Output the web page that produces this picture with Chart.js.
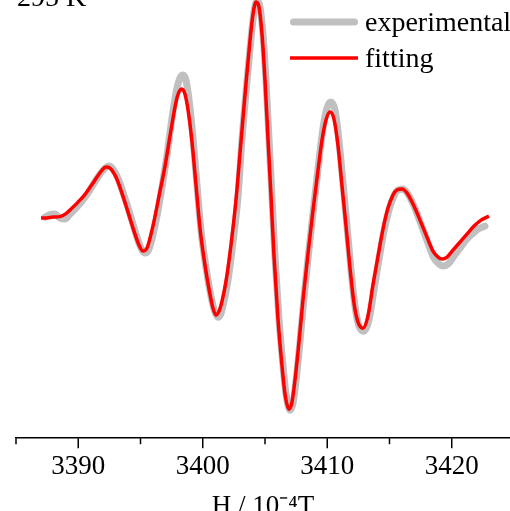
<!DOCTYPE html>
<html>
<head>
<meta charset="utf-8">
<script src="https://cdn.jsdelivr.net/npm/chart.js@4.4.1/dist/chart.umd.min.js"></script>
<style>
  html, body { margin: 0; padding: 0; width: 510px; height: 511px; overflow: hidden; background: #fff; }
  #wrap { position: relative; width: 510px; height: 527px; }
</style>
</head>
<body>
<div id="wrap"><canvas id="epr"></canvas></div>
<script>
// EPR spectrum at 295 K: measured trace and simulated fit
const expField = [3387.33, 3387.73, 3388.13, 3388.53, 3388.94, 3389.34, 3389.82, 3390.30, 3390.78, 3391.27,
  3391.75, 3392.15, 3392.47, 3392.79, 3393.19, 3393.67, 3394.16, 3394.64, 3395.04, 3395.36,
  3395.68, 3396.16, 3396.65, 3397.13, 3397.53, 3397.93, 3398.17, 3398.41, 3398.65, 3398.90,
  3399.22, 3399.54, 3399.86, 3400.26, 3400.66, 3400.98, 3401.22, 3401.47, 3401.71, 3402.03,
  3402.43, 3402.83, 3403.15, 3403.55, 3403.88, 3404.12, 3404.36, 3404.60, 3404.84, 3405.08,
  3405.32, 3405.56, 3405.80, 3406.12, 3406.45, 3406.69, 3407.01, 3407.25, 3407.49, 3407.81,
  3408.13, 3408.53, 3408.94, 3409.34, 3409.66, 3409.98, 3410.30, 3410.62, 3410.94, 3411.26,
  3411.59, 3411.91, 3412.23, 3412.55, 3412.95, 3413.35, 3413.75, 3414.16, 3414.56, 3414.96,
  3415.36, 3415.68, 3416.08, 3416.49, 3416.97, 3417.53, 3418.09, 3418.57, 3418.98, 3419.30,
  3419.70, 3420.18, 3420.66, 3421.14, 3421.63, 3422.11, 3422.67];
const expSignal = [1, 3.5, 4, 0, -1, 4, 10, 17, 25, 35,
  44, 50, 52, 49, 40, 23, 4, -16, -30, -35,
  -31, -8, 25, 63, 100, 130, 140, 143, 138, 118,
  80, 33, -12, -49, -78, -94, -99, -95, -83, -62,
  -24, 21, 78, 136, 180, 206, 217, 211, 184, 138,
  80, 22, -38, -100, -148, -176, -192, -185, -163, -124,
  -80, -32, 14, 58, 90, 110, 116, 108, 78, 36,
  -8, -52, -88, -108, -113, -102, -72, -41, -13, 8,
  22, 28, 29, 24, 12, -6, -25, -40, -46, -48,
  -46, -38, -30, -22, -16, -11, -8];

const fitField = [3387.01, 3387.49, 3387.97, 3388.53, 3389.02, 3389.50, 3389.98, 3390.50, 3391.02, 3391.51,
  3391.91, 3392.23, 3392.55, 3393.03, 3393.51, 3394.00, 3394.48, 3394.88, 3395.20, 3395.52,
  3396.00, 3396.49, 3396.97, 3397.45, 3397.85, 3398.09, 3398.33, 3398.57, 3398.82, 3399.14,
  3399.46, 3399.78, 3400.18, 3400.58, 3400.82, 3401.06, 3401.31, 3401.55, 3401.87, 3402.27,
  3402.67, 3403.07, 3403.47, 3403.80, 3404.04, 3404.28, 3404.52, 3404.76, 3405.00, 3405.24,
  3405.48, 3405.72, 3406.04, 3406.37, 3406.61, 3406.93, 3407.17, 3407.41, 3407.73, 3408.05,
  3408.45, 3408.86, 3409.26, 3409.58, 3409.90, 3410.22, 3410.54, 3410.86, 3411.18, 3411.51,
  3411.83, 3412.15, 3412.47, 3412.87, 3413.27, 3413.67, 3414.08, 3414.48, 3414.88, 3415.28,
  3415.60, 3416.00, 3416.41, 3416.89, 3417.45, 3418.01, 3418.49, 3418.90, 3419.22, 3419.62,
  3420.10, 3420.66, 3421.22, 3421.79, 3422.35, 3422.99];
const fitSignal = [0, 0.2, 1, 1.5, 4.5, 10, 16, 23, 32, 41,
  48, 51, 50, 41, 25, 6, -13, -27, -33, -30,
  -8, 22, 52, 88, 116, 126, 129, 124, 108, 76,
  33, -10, -47, -76, -90, -97, -93, -83, -63, -27,
  18, 76, 134, 178, 204, 216, 211, 184, 138, 80,
  23, -37, -100, -148, -176, -191, -184, -162, -124, -82,
  -36, 8, 48, 78, 98, 106, 99, 73, 33, -8,
  -50, -85, -104, -110, -98, -67, -38, -11, 10, 23,
  28, 29, 25, 14, -2, -19, -33, -39, -41, -39,
  -32, -24, -16, -8, -2, 2];

const seriesNames = ['experimental', 'fitting'];
const fieldTicks = [3390, 3400, 3410, 3420];
const tempLabel = '295 K';
const axisTitle = 'H / 10\u207B\u2074T';

const serif = '"Liberation Serif", "Times New Roman", serif';

function points(xs, ys) {
  return xs.map((x, i) => ({ x: x, y: ys[i] }));
}

// long ticks every 10, short ones in between
const axisTicks = {
  id: 'axisTicks',
  afterDraw(chart) {
    const sx = chart.scales.x;
    const y0 = chart.chartArea.bottom;
    const ctx = chart.ctx;
    ctx.save();
    ctx.strokeStyle = '#000';
    ctx.lineWidth = 1.5;
    sx.ticks.forEach(t => {
      const px = sx.getPixelForValue(t.value);
      const len = fieldTicks.includes(t.value) ? 10 : 6;
      ctx.beginPath();
      ctx.moveTo(px, y0);
      ctx.lineTo(px, y0 + len);
      ctx.stroke();
    });
    ctx.restore();
  }
};

// line-sample legend in the upper right, plus the temperature note
const lineLegend = {
  id: 'lineLegend',
  afterDraw(chart, args, opts) {
    const ctx = chart.ctx;
    ctx.save();
    ctx.font = opts.size + 'px ' + serif;
    ctx.textBaseline = 'alphabetic';
    chart.data.datasets.forEach((ds, i) => {
      const y = opts.top + i * opts.rowGap;
      const inset = ds.borderCapStyle === 'round' ? ds.borderWidth / 2 : 0;
      ctx.strokeStyle = ds.borderColor;
      ctx.lineWidth = ds.borderWidth;
      ctx.lineCap = ds.borderCapStyle || 'butt';
      ctx.beginPath();
      ctx.moveTo(opts.left + inset, y);
      ctx.lineTo(opts.left + opts.sample - inset, y);
      ctx.stroke();
      ctx.fillStyle = '#000';
      ctx.fillText(ds.label, opts.left + opts.sample + opts.gap, y + opts.baseline);
    });
    ctx.fillText(tempLabel, chart.chartArea.left + 1, opts.noteY);
    ctx.restore();
  }
};

new Chart(document.getElementById('epr'), {
  type: 'line',
  data: {
    datasets: [{
      label: seriesNames[0],
      data: points(expField, expSignal),
      borderColor: '#c0c0c0',
      borderWidth: 7,
      borderCapStyle: 'round',
      borderJoinStyle: 'round',
      pointRadius: 0,
      cubicInterpolationMode: 'monotone',
      order: 2
    }, {
      label: seriesNames[1],
      data: points(fitField, fitSignal),
      borderColor: '#ff0000',
      borderWidth: 3.5,
      pointRadius: 0,
      cubicInterpolationMode: 'monotone',
      order: 1
    }]
  },
  options: {
    responsive: true,
    maintainAspectRatio: false,
    animation: false,
    layout: { padding: { left: 16, right: 0, top: 0, bottom: 0 } },
    plugins: {
      legend: { display: false },
      tooltip: { enabled: false },
      lineLegend: { left: 290, top: 22, rowGap: 36, sample: 68, gap: 7, baseline: 9, size: 28, noteY: 6 }
    },
    scales: {
      x: {
        type: 'linear',
        min: 3385,
        max: 3424.68,
        border: { display: true, color: '#000', width: 1.5 },
        grid: { display: false, drawTicks: false },
        ticks: {
          stepSize: 5,
          includeBounds: false,
          autoSkip: false,
          maxRotation: 0,
          padding: 13,
          color: '#000',
          font: { family: serif, size: 27 },
          callback: v => fieldTicks.includes(v) ? String(v) : ''
        },
        title: {
          display: true,
          text: axisTitle,
          color: '#000',
          font: { family: serif, size: 27 },
          padding: { top: -6, bottom: 4 }
        }
      },
      y: { display: false, min: -220, max: 218 }
    }
  },
  plugins: [axisTicks, lineLegend]
});
</script>
</body>
</html>
